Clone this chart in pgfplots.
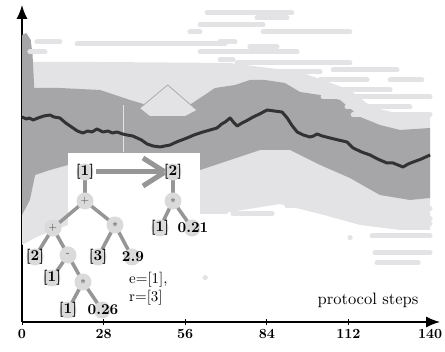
\documentclass[border=0pt]{standalone}
\usepackage{fontspec}
\setmainfont{lmroman10}[Extension=.otf, UprightFont=*-regular, BoldFont=*-bold, ItalicFont=*-italic, BoldItalicFont=*-bolditalic]
\usepackage{pgfplots}
\pgfplotsset{compat=1.18}
\usepgfplotslibrary{fillbetween}
\usetikzlibrary{arrows.meta}
\definecolor{lightband}{RGB}{227,227,229}
\definecolor{darkband}{RGB}{166,166,168}
\definecolor{meanline}{RGB}{50,50,50}
\definecolor{treeedge}{RGB}{150,150,150}
\definecolor{nodefill}{RGB}{218,218,218}
\newcommand\streak[3]{\addplot[lightband, line width=5pt, line cap=round] coordinates {(#1,#3) (#2,#3)};}
\begin{document}
\begin{tikzpicture}
\begin{axis}[
  scale only axis, width=418pt, height=317pt,
  xmin=0, xmax=143.4, ymin=0, ymax=317,
  axis lines=left,
  axis line style={line width=1.3pt, -{Latex[length=14pt,width=11pt]}},
  xtick={0,28,56,84,112,140}, ytick=\empty,
  tick align=center, major tick length=6pt,
  xtick style={line width=1pt, black},
  /pgf/number format/assume math mode=true,
  xticklabel style={font=\bfseries\fontsize{14}{16}\selectfont, yshift=-1pt},
  clip=false]
% light region
\addplot[name path=lu, draw=none] coordinates {(0,260) (26.8,260) (71.4,259) (95.4,250) (105,240) (112.5,232) (120,215) (129.7,208) (140,205)};
\addplot[name path=ll, draw=none] coordinates {(0,77) (5,85) (15.8,97) (40,105) (61.1,112) (71.4,110) (88.5,118) (102.3,108) (116,97) (129.7,92) (140,92)};
\addplot[lightband] fill between[of=lu and ll];
% streaks
\streak{63.5}{92.6}{309}
\streak{80.6}{90.9}{304}
\streak{61.1}{82.7}{297}
\streak{82.7}{112.5}{290}
\streak{57.6}{61.1}{290}
\streak{5.1}{13.0}{280}
\streak{67.9}{73.1}{280}
\streak{18.9}{69.7}{278}
\streak{78.2}{87.5}{275}
\streak{61.1}{94.4}{270}
\streak{2.7}{7.9}{270}
\streak{68}{72.4}{262}
\streak{73.8}{112.5}{259}
\streak{106.7}{128.7}{252}
\streak{67.9}{102.3}{250}
\streak{102.3}{118.4}{242}
\streak{126.3}{137.2}{242}
\streak{102.3}{126.3}{232}
\streak{103.3}{140}{225}
\streak{111.5}{133.1}{215}
\streak{113.6}{140}{207}
\streak{73.1}{86.1}{138}
\streak{67.9}{76.5}{131}
\streak{67.9}{84.1}{124}
\streak{90.9}{102.3}{116}
\streak{103.3}{140}{113}
\streak{72.4}{85.8}{108}
\streak{116}{140}{103}
\streak{122.8}{140}{98}
\streak{120.1}{140}{86}
\streak{112.5}{112.6}{84}
\streak{121.1}{140}{69}
\streak{121.8}{135.9}{59}
\streak{61.1}{70}{110}
\streak{61}{68}{125}
\streak{62.8}{62.9}{44}
% dark band
\addplot[name path=du, draw=none] coordinates {(0,287) (1.5,289) (3,282) (3.6,268) (4.2,234) (13,234) (26.8,232) (37.1,222) (43.9,216) (49.1,212) (55.9,214) (61.1,224) (66.2,234) (73.1,237) (78.2,242) (83.4,242) (90.2,239) (95.4,230) (102.3,227) (109.1,222) (116,205) (122.8,197) (129.7,192) (140,194)};
\addplot[name path=dl, draw=none] coordinates {(0,107) (2.7,122) (4.5,147) (9.6,152) (15.8,157) (26.8,157) (43.9,154) (61.1,152) (71.4,162) (81.7,172) (92,172) (102.3,157) (112.5,144) (122.8,127) (133.1,122) (140,124)};
\addplot[darkband] fill between[of=du and dl];
% tent
\addplot[fill=lightband, draw=none] coordinates {(40.5,214) (50.0,237) (59.9,212) (55.9,206) (43.9,206)} -- cycle;
\addplot[treeedge!80, line width=0.8pt] coordinates {(40.5,214) (50.0,237) (59.9,212)};
\addplot[lightband, line width=0.8pt] coordinates {(34.7,217) (34.7,170)};
% mean line
\addplot[meanline, line width=3pt, line join=round] coordinates {(0,205) (1.5,203) (2.5,204) (3.8,202) (5.5,204) (7.5,206) (9.6,207) (11,205) (13,204) (15,199) (17.5,194) (19,191) (20.9,189) (22.5,191) (24,190) (25.7,193) (27.8,190) (29.5,191) (31,189) (32.6,190) (34.5,188) (36,187) (38,186) (39.5,184) (41,182) (42.9,178) (45,176) (47.4,175) (49,176) (50.8,177) (53,180) (56.6,184) (59,187) (62.1,190) (64.5,192) (66.9,194) (68.5,198) (69.7,200) (71.4,204) (72.5,200) (73.8,196) (75.5,199) (77.5,202) (79.3,205) (81.5,208) (84.1,212) (86.5,211) (89.2,210) (91,204) (92.5,197) (94.4,190) (96.5,187) (98.8,185) (100,186) (101.2,188) (103,186) (105.7,184) (108.5,182) (111.5,180) (112.5,177) (113.6,174) (116.5,170) (119.4,167) (122,163) (125.2,159) (127.3,159) (129,157) (130.7,155) (132.5,158) (134.2,160) (137,163) (140,167)};
\end{axis}
\begin{scope}[x=1pt, y=-1pt, shift={(-22pt,322pt)}]
\fill[white] (68,153) rectangle (200,316);
\node[font=\fontsize{16.5}{18}\selectfont, anchor=center] at (368,300) {protocol steps};
\tikzset{edge/.style={treeedge, line width=3.5pt}}
% left tree edges
\draw[edge] (85,172)--(85,201);
\draw[edge] (85,201)--(53,228);
\draw[edge] (85,201)--(115,225);
\draw[edge] (53,228)--(35,257);
\draw[edge] (53,228)--(68,255);
\draw[edge] (115,225)--(98,257);
\draw[edge] (115,225)--(132,257);
\draw[edge] (68,255)--(52,278);
\draw[edge] (68,255)--(83,282);
\draw[edge] (83,282)--(68,310);
\draw[edge] (83,282)--(102,310);
% right tree edges
\draw[edge] (173,172)--(173,201);
\draw[edge] (173,201)--(160,228);
\draw[edge] (173,201)--(192,228);
% arrow
\draw[treeedge, line width=5pt] (96,172)--(162,172);
\draw[treeedge, line width=5pt, line join=miter] (143,158)--(165,172)--(143,186);
% node circles
\foreach \p in {(85,172),(173,172),(85,201),(173,201),(160,228),(192,228),(53,228),(115,225),(35,257),(68,255),(98,257),(132,257),(52,278),(83,282),(68,310),(102,310)}
  \fill[nodefill] \p circle (8.5pt);
\tikzset{lab/.style={font=\bfseries\fontsize{15}{17}\selectfont, inner sep=0pt}, op/.style={font=\fontsize{11}{13}\selectfont, inner sep=0pt, text=black!75}}
\node[lab] at (85,172) {[1]};
\node[lab] at (173,172) {[2]};
\node[op] at (85,201) {+};
\node[op] at (173,202) {*};
\node[lab] at (160,228) {[1]};
\node[lab] at (193,228) {0.21};
\node[op] at (53,228) {+};
\node[op] at (115,226) {*};
\node[lab] at (35,257) {[2]};
\node[op] at (68,255) {-};
\node[lab] at (98,257) {[3]};
\node[lab] at (133,257) {2.9};
\node[lab] at (52,278) {[1]};
\node[op] at (83,283) {*};
\node[lab] at (68,310) {[1]};
\node[lab] at (103,310) {0.26};
\node[font=\fontsize{15}{17}\selectfont, inner sep=0pt, anchor=west] at (129,280) {e=[1],};
\node[font=\fontsize{15}{17}\selectfont, inner sep=0pt, anchor=west] at (129,298) {r=[3]};
\pgfresetboundingbox
\useasboundingbox (0,0) rectangle (445,352);
\end{scope}
\end{tikzpicture}
\end{document}
